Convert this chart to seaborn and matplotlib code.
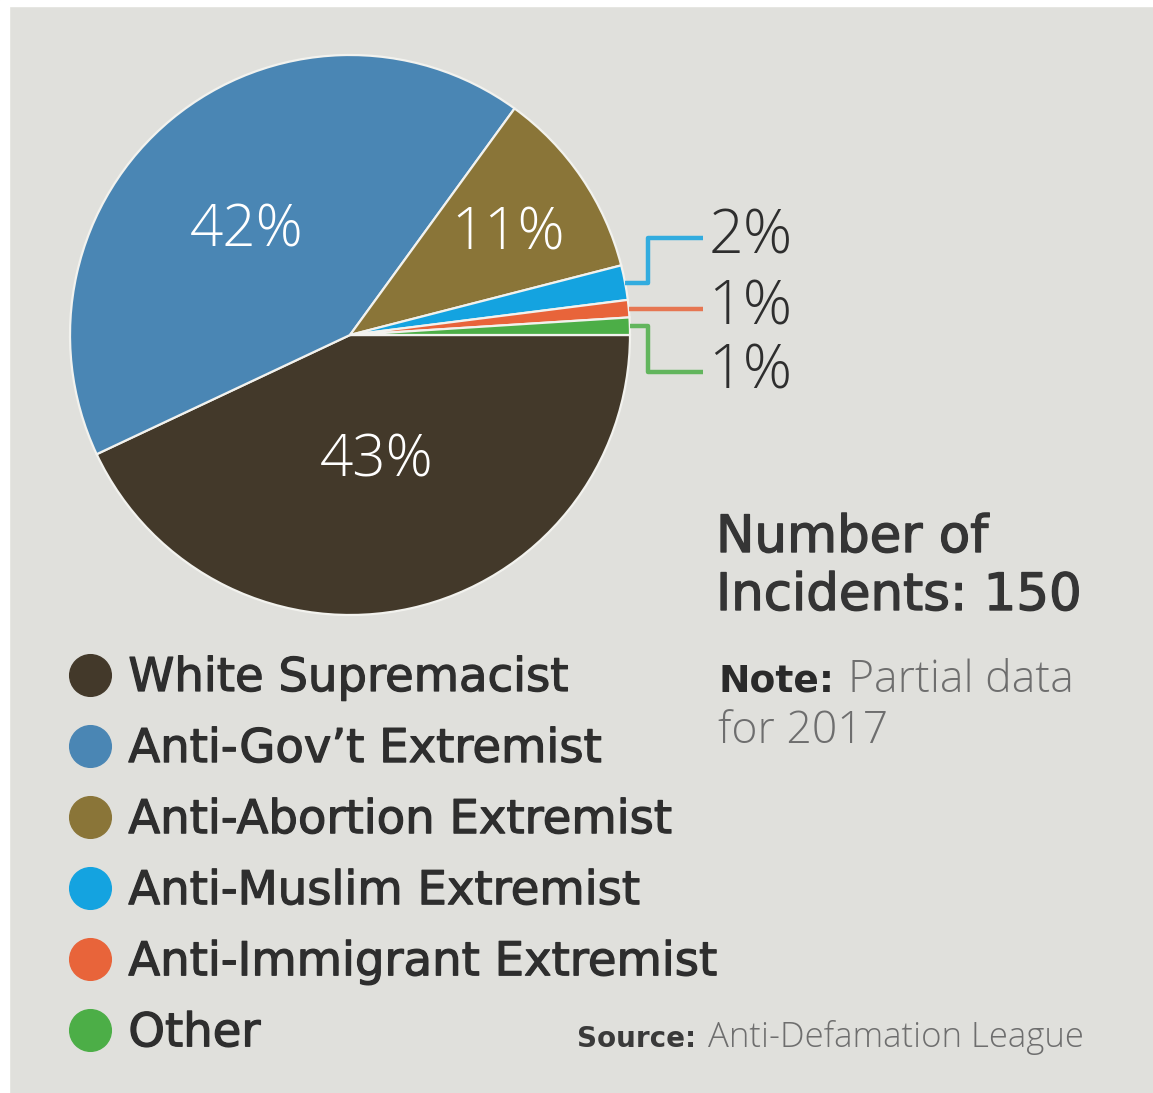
import numpy as np
import matplotlib.pyplot as plt
import matplotlib.patheffects as pe
import seaborn as sns
from matplotlib.lines import Line2D
from matplotlib.patches import Rectangle

sns.set_theme(style="white")
plt.rcParams['font.family'] = ['DejaVu Sans']

# ==================== 数据 ====================
categories = ['White Supremacist', "Anti-Gov\u2019t Extremist", 'Anti-Abortion Extremist',
              'Anti-Muslim Extremist', 'Anti-Immigrant Extremist', 'Other']
shares = [43, 42, 11, 2, 1, 1]
colors = ['#43392a', '#4a86b4', '#8a7538', '#14a3e0', '#e8643a', '#4cae47']
total_incidents = 150
source = 'Anti-Defamation League'
note_year = 2017

W, H = 1153, 1093
BG = '#e0e0dc'
DARK = '#2e2e2e'
GREY = '#6e6e6e'
LIGHT_FONT = ['Open Sans', 'DejaVu Sans']


def fx(px):
    return px / W


def fy(py):
    return 1 - py / H


# 稍微加粗的效果（模拟 Medium 字重）
medium = [pe.withStroke(linewidth=0.9, foreground=DARK)]

fig = plt.figure(figsize=(W / 100, H / 100), dpi=100)
fig.patch.set_facecolor(BG)
# 白色边框（上、左）
fig.add_artist(Rectangle((0, fy(6)), 1, 6 / H, transform=fig.transFigure, color='white', zorder=0))
fig.add_artist(Rectangle((0, 0), 9 / W, 1, transform=fig.transFigure, color='white', zorder=0))

# 饼图：圆心 (350, 335)，半径 280 像素
cx, cy, r = 350, 335, 280
ax = fig.add_axes([fx(cx - r), fy(cy + r), 2 * r / W, 2 * r / H])
ax.set_facecolor(BG)
wedges, _ = ax.pie(shares, colors=colors, startangle=0, counterclock=False, radius=1,
                   wedgeprops=dict(edgecolor='#f2f2ee', linewidth=1.6))
ax.set_xlim(-1, 1)
ax.set_ylim(-1, 1)
ax.set_aspect('equal')
ax.axis('off')

# 大扇区内的白色百分比
inner = {0: (0.095, -0.45), 1: (-0.37, 0.37), 2: (0.565, 0.362)}
for i, (x, y) in inner.items():
    ax.text(x, y, f'{shares[i]}%', color='white', fontsize=42, family=LIGHT_FONT,
            fontweight='light', ha='center', va='center')

# 小扇区的引线与标签
offsets = {3: 0.16, 4: 0.0, 5: -0.165}
for i, dy in offsets.items():
    w = wedges[i]
    mid = np.deg2rad((w.theta1 + w.theta2) / 2)
    x0, y0 = np.cos(mid), np.sin(mid)
    xe, xl = 1.064, 1.26
    xs = [x0, xe, xe, xl] if dy else [x0, xl]
    ys = [y0, y0, y0 + dy, y0 + dy] if dy else [y0, y0]
    ax.plot(xs, ys, color=colors[i], lw=3.2, clip_on=False,
            solid_joinstyle='round', solid_capstyle='butt', alpha=0.85)
    ax.text(xl + 0.02, y0 + dy, f'{shares[i]}%', color=DARK, fontsize=44, family=LIGHT_FONT,
            fontweight='light', ha='left', va='center', clip_on=False)

# 右侧说明
for label, y in [('Number of', 552), (f'Incidents: {total_incidents}', 610)]:
    t = fig.text(fx(716), fy(y), label, color='#353535', fontsize=37, ha='left', va='baseline')
    t.set_path_effects([pe.withStroke(linewidth=1.0, foreground='#353535')])
fig.text(fx(718), fy(692), 'Note:', color='#2a2a2a', fontsize=27, fontweight='bold',
         ha='left', va='baseline')
fig.text(fx(848), fy(692), 'Partial data', color=GREY, fontsize=32, family=LIGHT_FONT,
         fontweight='light', ha='left', va='baseline')
fig.text(fx(718), fy(743), f'for {note_year}', color=GREY, fontsize=32,
         family=LIGHT_FONT, fontweight='light', ha='left', va='baseline')

# 图例
handles = [Line2D([], [], marker='o', linestyle='', markersize=30, color=c) for c in colors]
leg = fig.legend(handles, categories, loc='upper left', bbox_to_anchor=(fx(69), fy(656)),
                 frameon=False, prop=dict(size=33.5),
                 handlelength=30 / 33.5, handletextpad=0.38, labelspacing=0.56, borderpad=0,
                 borderaxespad=0, labelcolor=DARK)
for t in leg.get_texts():
    t.set_path_effects(medium)

# 数据来源
fig.text(fx(577), fy(1047), 'Source:', color='#3a3a3a', fontsize=20, fontweight='bold',
         ha='left', va='baseline')
fig.text(fx(708), fy(1047), source, color=GREY, fontsize=25, family=LIGHT_FONT,
         fontweight='light', ha='left', va='baseline')

fig.savefig('out.png', dpi=100, facecolor=BG)
